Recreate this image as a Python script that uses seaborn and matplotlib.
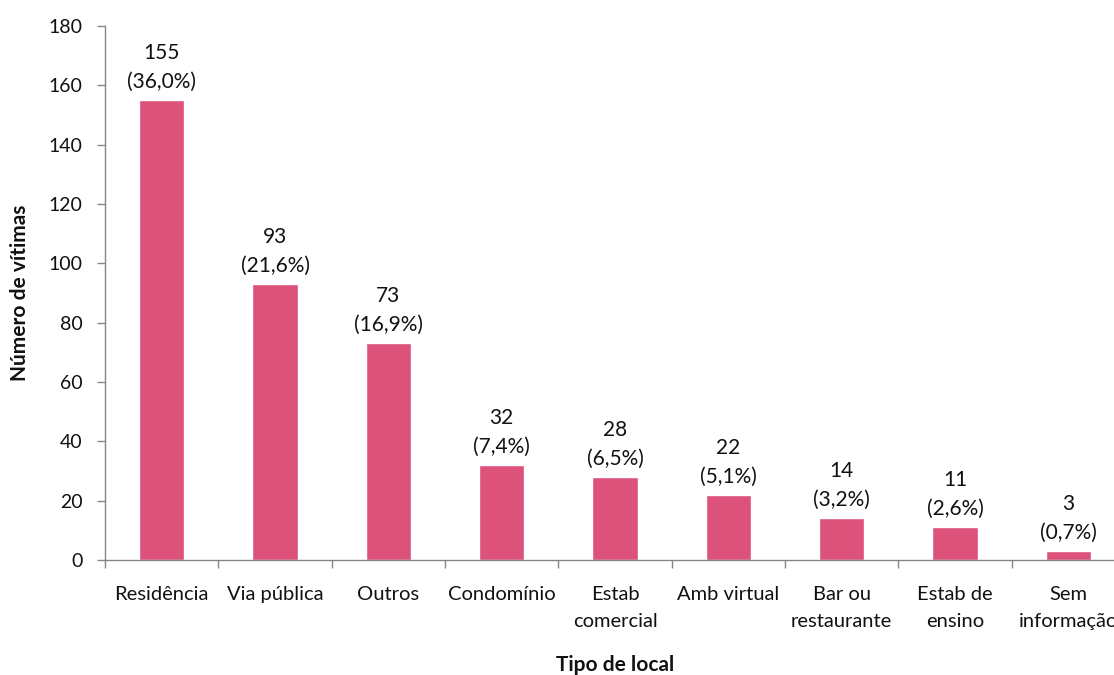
import matplotlib
matplotlib.use("Agg")
import matplotlib.pyplot as plt
import seaborn as sns
import pandas as pd

categories = ["Residência", "Via pública", "Outros", "Condomínio", "Estab\ncomercial",
              "Amb virtual", "Bar ou\nrestaurante", "Estab de\nensino", "Sem\ninformação"]
victims = [155, 93, 73, 32, 28, 22, 14, 11, 3]
percents = ["36,0%", "21,6%", "16,9%", "7,4%", "6,5%", "5,1%", "3,2%", "2,6%", "0,7%"]

sns.set_style("white")
plt.rcParams["font.family"] = ["Lato", "DejaVu Sans"]

df = pd.DataFrame({"local": categories, "vitimas": victims})

fig = plt.figure(figsize=(11.14, 6.75), dpi=100)
# axes extend past the right edge of the figure, so the last label is clipped
ax = fig.add_axes([105 / 1114, 1 - 560 / 675, 1020 / 1114, 534 / 675])

sns.barplot(data=df, x="local", y="vitimas", color="#DC527A", width=0.4,
            saturation=1, ax=ax)

for i, (v, p) in enumerate(zip(victims, percents)):
    ax.annotate(f"{v}\n({p})", xy=(i, v), xytext=(0, 6), textcoords="offset points",
                ha="center", va="bottom", fontsize=15, linespacing=1.55, color="#111111")

ax.set_ylim(0, 180)
ax.set_xlim(-0.5, len(categories) - 0.5)
ax.set_yticks(range(0, 181, 20))
ax.tick_params(axis="y", labelsize=14, length=6, width=1, color="#868686", direction="out",
               left=True, pad=10, labelcolor="#111111")
ax.set_xticks([i + 0.5 for i in range(-1, len(categories))], minor=True)
ax.set_xticks(range(len(categories)))
ax.set_xticklabels(categories, fontsize=14.5, linespacing=1.7, color="#111111")
ax.tick_params(axis="x", which="major", length=0, pad=19)
ax.tick_params(axis="x", which="minor", length=6, width=1, color="#868686", direction="out",
               bottom=True)

for side in ["top", "right"]:
    ax.spines[side].set_visible(False)
for side in ["left", "bottom"]:
    ax.spines[side].set_color("#868686")
    ax.spines[side].set_linewidth(1)

ax.set_ylabel("Número de vítimas", fontsize=15, fontweight="bold", color="#111111")
ax.set_xlabel("Tipo de local", fontsize=15, fontweight="bold", color="#111111")
ax.yaxis.set_label_coords(-(105 - 30) / 1020, 0.5)
ax.xaxis.set_label_coords(0.5, -(655 - 560) / 534)

fig.savefig("out.png", dpi=100)
